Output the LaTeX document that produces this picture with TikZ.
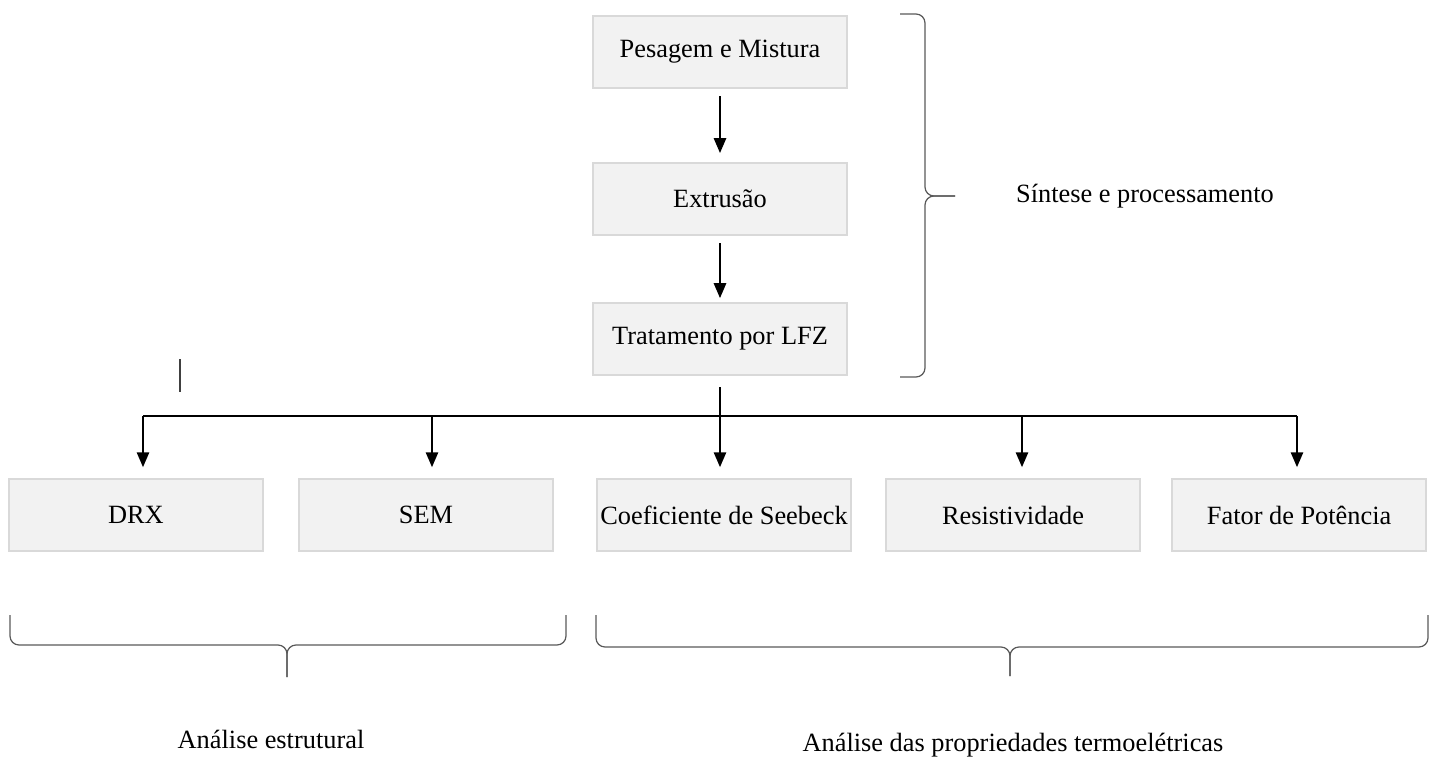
\documentclass[tikz,border=0pt]{standalone}
\usepackage{fontspec}
\setmainfont{Liberation Serif}
\usetikzlibrary{positioning,calc,arrows.meta}
\definecolor{boxfill}{HTML}{F2F2F2}
\definecolor{boxline}{HTML}{D9D9D9}
\definecolor{braceline}{HTML}{595959}

\begin{document}
\begin{tikzpicture}[x=0.02cm,y=-0.02cm,font=\fontsize{15}{18}\selectfont]
	\tikzset{
		stepbox/.style={draw=boxline,fill=boxfill,line width=1.2pt,
				minimum width=5.08cm,minimum height=1.44cm,inner sep=0pt},
		arr/.style={line width=1.1pt,-{Triangle[length=8.5pt,width=7pt]}},
		brace/.style={draw=braceline,line width=0.7pt,rounded corners=0.18cm},
	}
	\useasboundingbox (0,0) rectangle (1438,757);
	% sintese
	\node[stepbox] at (720,52) (pesagem) {Pesagem e Mistura};
	\node[stepbox,below=1.46cm of pesagem] (extrusao) {Extrusão};
	\node[stepbox,below=1.32cm of extrusao] (lfz) {Tratamento por LFZ};
	% analises
	\node[stepbox,below=2.04cm of lfz,xshift=0.08cm] (seebeck) {Coeficiente de Seebeck};
	\node[stepbox,left=0.84cm of seebeck] (sem) {SEM};
	\node[stepbox,left=0.68cm of sem] (drx) {DRX};
	\node[stepbox,right=0.66cm of seebeck] (resist) {Resistividade};
	\node[stepbox,right=0.6cm of resist] (fator) {Fator de Potência};
	%
	\node at (1145,196) (sintese) {Síntese e processamento};
	\node at (271,739) (estrutural) {Análise estrutural};
	\node at (1013,745) (termo) {Análise das propriedades termoelétricas};
	%
	\draw[arr,shorten <=0.14cm,shorten >=0.18cm] (pesagem) -- (extrusao);
	\draw[arr,shorten <=0.14cm,shorten >=0.08cm] (extrusao) -- (lfz);
	\draw[arr,shorten <=0.22cm,shorten >=0.22cm] (lfz.south) -- (lfz.south |- seebeck.north);
	\coordinate (busl) at (143,416);
	\coordinate (busr) at (1297,416);
	\draw[line width=1.1pt] (busl) -- (busr);
	\foreach \n/\x in {drx/143,sem/432,resist/1022,fator/1297}{
		\coordinate (t\n) at (\x,416);
		\draw[arr,shorten >=0.22cm] (t\n) -- (t\n |- \n.north);
	}
	\draw[line width=0.6pt,black!75] (180,359) -- (180,392);
	% chaves
	\draw[brace] (900,14) -- (925,14) -- (925,196) -- (955,196);
	\draw[brace] (900,377) -- (925,377) -- (925,196) -- (955,196);
	\draw[brace] (10,615) -- (10,645) -- (287,645) -- (287,677);
	\draw[brace] (566,615) -- (566,645) -- (287,645) -- (287,677);
	\draw[brace] (596,615) -- (596,647) -- (1010,647) -- (1010,676);
	\draw[brace] (1428,615) -- (1428,647) -- (1010,647) -- (1010,676);
\end{tikzpicture}
\end{document}
